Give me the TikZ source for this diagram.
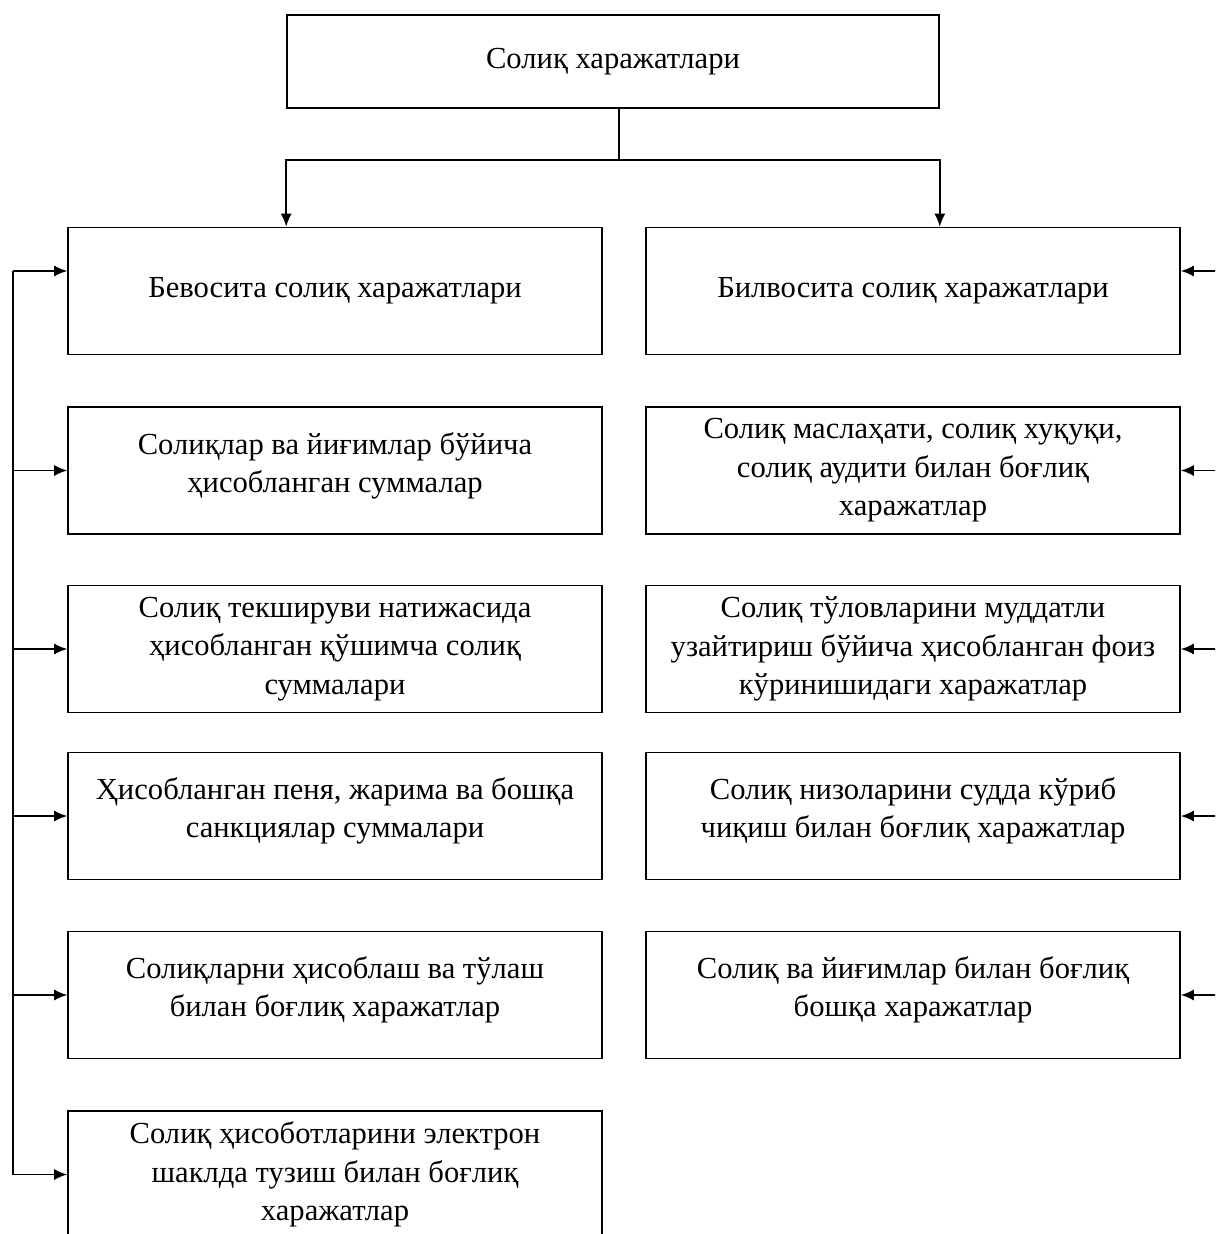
\documentclass[tikz,border=0pt]{standalone}
\usepackage{fontspec}
\setmainfont{Liberation Serif}
\usetikzlibrary{arrows.meta}
\usetikzlibrary{calc}

\begin{document}
\begin{tikzpicture}[x=0.5pt, y=-0.5pt]
        % ================= styles =================
        \tikzset{
            % boxes: plain rectangles, text centred, serif
            bigbox/.style={rectangle, draw=black, line width=0.8pt, fill=white, minimum width=326pt, minimum height=46.5pt, align=center, font=\fontsize{15.3}{19.2}\selectfont},
            costbox/.style={rectangle, draw=black, line width=0.8pt, fill=white, minimum width=267pt, minimum height=63.5pt, inner sep=0pt, align=center, font=\fontsize{15.3}{19.2}\selectfont},
            link/.style={line width=0.8pt, black},
            arr/.style={link, -{Latex[length=6.5pt, width=5.5pt]}}
        }

        % page size (the last box runs off the bottom)
        \useasboundingbox (0,0) rectangle (1215,1234);
        \clip (0,0) rectangle (1215,1234);

        % ================= top =================
        \node[bigbox] (top) at (613,61.5) {\raisebox{3pt}{Солиқ харажатлари}};

        % ================= left column: direct =================
        \node[costbox] (l1) at (335,291)    {\raisebox{2.5pt}{Бевосита солиқ харажатлари}};
        \node[costbox] (l2) at (335,470.5)  {Солиқлар ва йиғимлар бўйича\\ ҳисобланган суммалар\\[-11pt]};
        \node[costbox] (l3) at (335,649)    {Солиқ текшируви натижасида\\ ҳисобланган қўшимча солиқ\\ суммалари};
        \node[costbox] (l4) at (335,816)    {Ҳисобланган пеня, жарима ва бошқа\\ санкциялар суммалари\\[-11pt]};
        \node[costbox] (l5) at (335,995)    {Солиқларни ҳисоблаш ва тўлаш\\ билан боғлиқ харажатлар\\[-11pt]};
        \node[costbox] (l6) at (335,1174.5) {Солиқ ҳисоботларини электрон\\ шаклда тузиш билан боғлиқ\\ харажатлар};

        % ================= right column: indirect =================
        \node[costbox] (r1) at (913,291)    {\raisebox{2.5pt}{Билвосита солиқ харажатлари}};
        \node[costbox] (r2) at (913,470.5)  {Солиқ маслаҳати, солиқ хуқуқи,\\ солиқ аудити билан боғлиқ\\ харажатлар};
        \node[costbox] (r3) at (913,649)    {Солиқ тўловларини муддатли\\ узайтириш бўйича ҳисобланган фоиз\\ кўринишидаги харажатлар};
        \node[costbox] (r4) at (913,816)    {Солиқ низоларини судда кўриб\\ чиқиш билан боғлиқ харажатлар\\[-11pt]};
        \node[costbox] (r5) at (913,995)    {Солиқ ва йиғимлар билан боғлиқ\\ бошқа харажатлар\\[-11pt]};

        % ================= split from the top box =================
        \coordinate (stem) at ([xshift=3pt]top.south);
        \coordinate (split) at (stem |- 0,160);
        \draw[link] (stem) -- (split);
        \draw[arr] (split) -| (top.west |- l1.north);
        \draw[arr] (split) -| (top.east |- r1.north);

        % ================= side buses =================
        \coordinate (lbus) at (13,0);
        \coordinate (rbus) at (1230,0);
        \coordinate (l1w) at ([yshift=10pt]l1.west);
        \coordinate (r1e) at ([yshift=10pt]r1.east);

        \draw[link] (lbus |- l1w) -- (lbus |- l6.west);
        \draw[arr] (lbus |- l1w) -- (l1w);
        \foreach \x in {l2,l3,l4,l5,l6} {
            \draw[arr] (lbus |- \x.west) -- (\x.west);
        }

        \draw[link] (rbus |- r1e) -- (rbus |- r5.east);
        \draw[arr] (rbus |- r1e) -- (r1e);
        \foreach \x in {r2,r3,r4,r5} {
            \draw[arr] (rbus |- \x.east) -- (\x.east);
        }

    \end{tikzpicture}
\end{document}
